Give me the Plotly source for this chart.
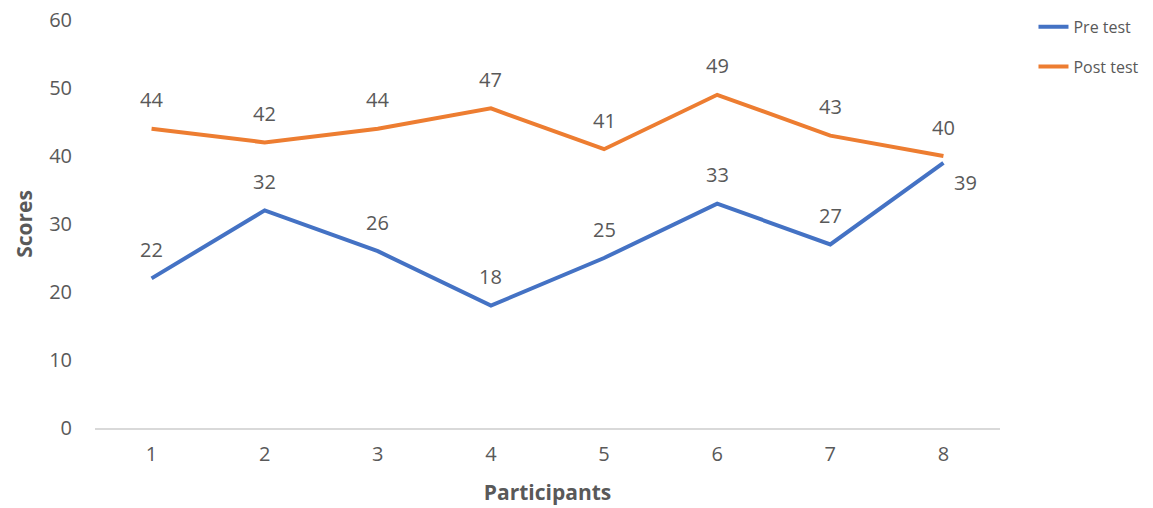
import plotly.graph_objects as go

participants = ["1", "2", "3", "4", "5", "6", "7", "8"]
pre_test = [22, 32, 26, 18, 25, 33, 27, 39]
post_test = [44, 42, 44, 47, 41, 49, 43, 40]
y_ticks = [0, 10, 20, 30, 40, 50, 60]

BLUE = "#4472C4"
ORANGE = "#ED7D31"
GRAY = "#595959"
FONT = "Open Sans"
LBL = dict(family=FONT, size=20, color=GRAY)

fig = go.Figure()
fig.add_trace(go.Scatter(x=participants, y=pre_test, mode="lines", name="Pre test",
                         line=dict(color=BLUE, width=4), legendgroup="a"))
fig.add_trace(go.Scatter(x=participants, y=post_test, mode="lines", name="Post test",
                         line=dict(color=ORANGE, width=4), legendgroup="b"))

annotations = []
last = len(participants) - 1
for i, v in enumerate(pre_test):
    if i == last:
        annotations.append(dict(x=i, y=v, text=str(v), showarrow=False, xshift=22, yshift=-20, font=LBL))
    else:
        annotations.append(dict(x=i, y=v, text=str(v), showarrow=False, yshift=29, font=LBL))
for i, v in enumerate(post_test):
    annotations.append(dict(x=i, y=v, text=str(v), showarrow=False, yshift=29, font=LBL))

fig.update_layout(
    width=1153, height=508,
    margin=dict(l=95, r=153, t=20, b=80, autoexpand=False),
    plot_bgcolor="white", paper_bgcolor="white",
    font=dict(family=FONT, size=20, color=GRAY),
    annotations=annotations,
    legend=dict(x=1.037, y=1.025, xanchor="left", yanchor="top",
                font=dict(family=FONT, size=16, color=GRAY),
                tracegroupgap=16, traceorder="grouped"),
    xaxis=dict(type="category", range=[-0.5, 7.5], showgrid=False, showline=True, automargin=False,
               linecolor="#D9D9D9", linewidth=1.5, ticks="", zeroline=False, ticklabelstandoff=7,
               title=dict(text="<b>Participants</b>", font=dict(family=FONT, size=21, color=GRAY), standoff=20),
               tickfont=LBL),
    yaxis=dict(range=[0, 60], tickvals=y_ticks, showgrid=False, showline=False, zeroline=False, automargin=False,
               ticks="", ticklabelstandoff=22,
               title=dict(text="<b>Scores</b>", font=dict(family=FONT, size=21, color=GRAY), standoff=10),
               tickfont=LBL),
)

fig.write_html("out.html")
